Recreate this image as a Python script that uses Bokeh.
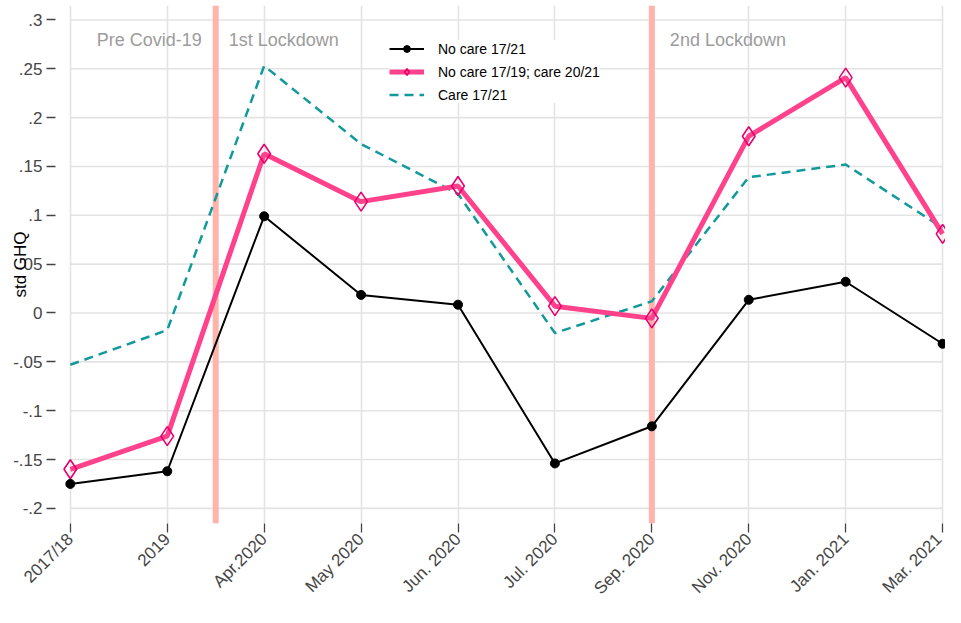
import math
from bokeh.plotting import figure
from bokeh.models import FixedTicker, Span, Label, Legend, LegendItem, Range1d
from bokeh.embed import file_html
from bokeh.resources import INLINE

# ---- data ----
periods = ["2017/18", "2019", "Apr.2020", "May 2020", "Jun. 2020", "Jul. 2020",
           "Sep. 2020", "Nov. 2020", "Jan. 2021", "Mar. 2021"]
no_care = [-0.175, -0.162, 0.099, 0.0185, 0.0085, -0.154, -0.116, 0.0135, 0.032, -0.0315]
care_switch = [-0.160, -0.126, 0.163, 0.114, 0.130, 0.007, -0.0055, 0.181, 0.241, 0.081]
care = [-0.053, -0.0175, 0.253, 0.173, 0.122, -0.0205, 0.012, 0.139, 0.152, 0.087]
y_ticks = [-0.2, -0.15, -0.1, -0.05, 0, 0.05, 0.1, 0.15, 0.2, 0.25, 0.3]
y_tick_labels = ["-.2", "-.15", "-.1", "-.05", "0", ".05", ".1", ".15", ".2", ".25", ".3"]
event_lines = [1.5, 6]  # between 2019/Apr.2020 and at Sep. 2020
phase_labels = ["Pre Covid-19", "1st Lockdown", "2nd Lockdown"]
phase_x = [1.356, 1.634, 6.186]
phase_align = ["right", "left", "left"]
phase_y = 0.279

x = list(range(len(periods)))
FONT = "Liberation Sans"

p = figure(width=945, height=607, output_backend="svg", toolbar_location=None,
           x_range=Range1d(-0.153, 9.03), y_range=Range1d(-0.2155, 0.3148),
           min_border_top=5, min_border_right=0, min_border_left=55)
p.outline_line_color = None
p.background_fill_color = "white"

# grid: vertical lines span the full height, horizontal ones span first..last period
p.xgrid.grid_line_color = "#e3e3e3"
p.xgrid.grid_line_width = 1.6
p.xgrid.ticker = FixedTicker(ticks=x)
p.ygrid.visible = False
p.segment(x0=[x[0]] * len(y_ticks), x1=[x[-1]] * len(y_ticks), y0=y_ticks, y1=y_ticks,
          line_color="#e3e3e3", line_width=1.6, level="underlay")

# axes
p.xaxis.ticker = FixedTicker(ticks=x)
p.xaxis.major_label_overrides = {i: s for i, s in zip(x, periods)}
p.xaxis.major_label_orientation = math.pi / 4
p.yaxis.ticker = FixedTicker(ticks=y_ticks)
p.yaxis.major_label_overrides = {t: s for t, s in zip(y_ticks, y_tick_labels)}
p.yaxis.axis_label = "std GHQ"
p.yaxis.axis_label_text_font_style = "normal"
p.yaxis.axis_label_text_font_size = "17px"
p.yaxis.axis_label_text_font = FONT
p.yaxis.axis_label_text_color = "black"
p.yaxis.axis_label_standoff = -20
for ax in (p.xaxis, p.yaxis):
    ax.axis_line_color = None
    ax.major_tick_line_color = "#444444"
    ax.major_tick_line_width = 1.3
    ax.major_tick_out = 9
    ax.major_tick_in = 0
    ax.minor_tick_line_color = None
    ax.major_label_text_font = FONT
    ax.major_label_text_font_size = "17px"
    ax.major_label_text_color = "#454545"
    ax.major_label_standoff = 4

# vertical event lines
for ev in event_lines:
    p.add_layout(Span(location=ev, dimension="height", line_color="#ffb3ab",
                      line_width=6, level="underlay"))

# series
r_teal = p.line(x, care, line_color="#12999c", line_width=2.5, line_dash="9 6")
r_pink = p.line(x, care_switch, line_color="#ff428b", line_width=5)
r_pink_m = p.scatter(x, care_switch, marker="diamond", size=19, fill_color=None,
                     line_color="#e8006e", line_width=1.6)
r_black = p.line(x, no_care, line_color="black", line_width=2)
r_black_m = p.scatter(x, no_care, marker="circle", size=9, fill_color="black",
                      line_color="black")

# phase labels
for txt, px, al in zip(phase_labels, phase_x, phase_align):
    p.add_layout(Label(x=px, y=phase_y, text=txt, text_align=al,
                       text_baseline="middle", text_color="#9c9c9c",
                       text_font=FONT, text_font_size="18px"))

legend = Legend(items=[
    LegendItem(label="No care 17/21", renderers=[r_black, r_black_m]),
    LegendItem(label="No care 17/19; care 20/21", renderers=[r_pink, r_pink_m]),
    LegendItem(label="Care 17/21", renderers=[r_teal]),
], location=(334, 420))
legend.background_fill_color = "white"
legend.background_fill_alpha = 1
legend.border_line_color = None
legend.label_text_font = FONT
legend.label_text_font_size = "14px"
legend.label_text_color = "black"
legend.glyph_width = 35
legend.glyph_height = 17
legend.label_height = 17
legend.spacing = 6
legend.padding = 8
legend.label_standoff = 14
p.add_layout(legend, "center")

open("out.html", "w").write(file_html(p, INLINE))
